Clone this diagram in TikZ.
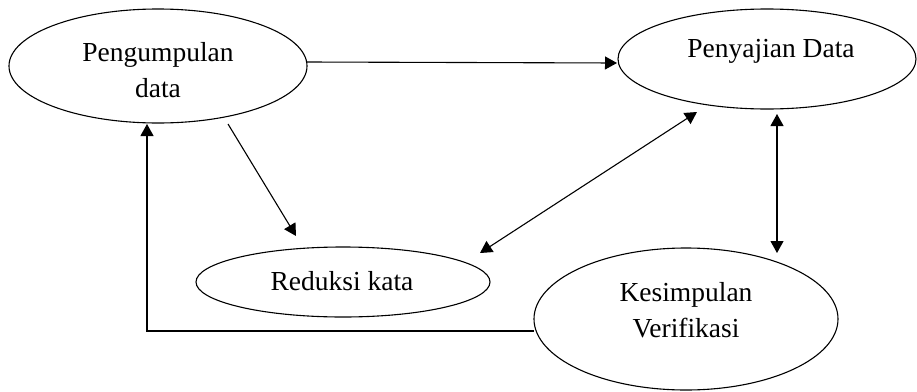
\documentclass[tikz,border=0pt]{standalone}
\usepackage{fontspec}
\setmainfont{Liberation Serif}
\usetikzlibrary{shapes.geometric,arrows.meta}
\begin{document}
\begin{tikzpicture}[x=1pt,y=-1pt,
  bub/.style={draw, ellipse, line width=1.1pt, inner sep=0pt},
  lbl/.style={font=\fontsize{27.5}{33}\selectfont, inner sep=0pt, anchor=base},
  con/.style={line width=1.1pt, -{Triangle[length=12pt,width=13pt]}},
  bicon/.style={line width=1.1pt, {Triangle[length=12pt,width=13pt]}-{Triangle[length=12pt,width=13pt]}}]
\useasboundingbox (0,0) rectangle (917,391);
% ellipses
\node[bub, minimum width=298pt, minimum height=114pt] (pd) at (158,66) {};
\node[bub, minimum width=298pt, minimum height=100pt] (pj) at (767,59) {};
\node[bub, minimum width=294pt, minimum height=70pt] (rk) at (343,282) {};
\node[bub, minimum width=304pt, minimum height=142pt] (kv) at (686,319) {};
% labels
\node[lbl] (pdA) at (158,61) {Pengumpulan};
\node[lbl] (pdB) at (158,97) {data};
\node[lbl] (pjA) at (771,57) {Penyajian Data};
\node[lbl] (rkA) at (342,290) {Reduksi kata};
\node[lbl] (kvA) at (686,301) {Kesimpulan};
\node[lbl] (kvB) at (686,337) {Verifikasi};
% connector end points
\coordinate (c1s) at (307,62);
\coordinate (c1e) at (617,63);
\coordinate (c2s) at (228,124);
\coordinate (c2e) at (296,236);
\coordinate (c3s) at (480,253);
\coordinate (c3e) at (697,112);
\coordinate (c4s) at (777,114);
\coordinate (c4e) at (777,253);
\coordinate (c5s) at (534,331);
\coordinate (c5m) at (147,331);
\coordinate (c5e) at (147,124);
% connectors
\draw[con] (c1s) -- (c1e);
\draw[con] (c2s) -- (c2e);
\draw[bicon] (c3s) -- (c3e);
\draw[bicon] (c4s) -- (c4e);
\draw[con] (c5s) -- (c5m) -- (c5e);
\end{tikzpicture}
\end{document}
